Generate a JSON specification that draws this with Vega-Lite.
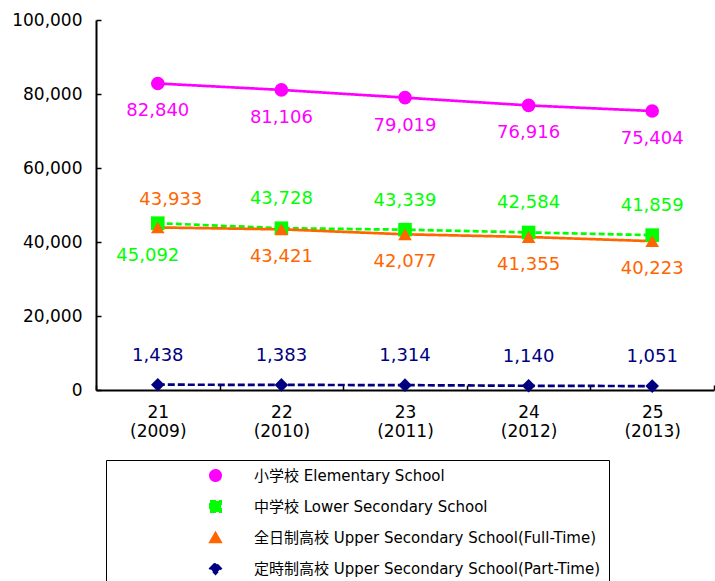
{
  "$schema": "https://vega.github.io/schema/vega-lite/v6.json",
  "width": 618,
  "height": 370,
  "autosize": "none",
  "padding": {"left": 96, "top": 20, "right": 1, "bottom": 191},
  "config": {
    "view": {"stroke": null},
    "font": "DejaVu Sans, Noto Sans CJK JP",
    "axis": {"labelFont": "DejaVu Sans, Noto Sans CJK JP", "labelColor": "#000", "domainColor": "#000", "domainWidth": 2, "tickColor": "#000", "tickWidth": 1.5, "grid": false, "title": null},
    "legend": {"labelFont": "DejaVu Sans, Noto Sans CJK JP"}
  },
  "data": {
    "values": [
      {"school": "小学校 Elementary School", "year": "21 (2009)", "count": 82840},
      {"school": "小学校 Elementary School", "year": "22 (2010)", "count": 81106},
      {"school": "小学校 Elementary School", "year": "23 (2011)", "count": 79019},
      {"school": "小学校 Elementary School", "year": "24 (2012)", "count": 76916},
      {"school": "小学校 Elementary School", "year": "25 (2013)", "count": 75404},
      {"school": "中学校 Lower Secondary School", "year": "21 (2009)", "count": 45092},
      {"school": "中学校 Lower Secondary School", "year": "22 (2010)", "count": 43728},
      {"school": "中学校 Lower Secondary School", "year": "23 (2011)", "count": 43339},
      {"school": "中学校 Lower Secondary School", "year": "24 (2012)", "count": 42584},
      {"school": "中学校 Lower Secondary School", "year": "25 (2013)", "count": 41859},
      {"school": "全日制高校 Upper Secondary School(Full-Time)", "year": "21 (2009)", "count": 43933},
      {"school": "全日制高校 Upper Secondary School(Full-Time)", "year": "22 (2010)", "count": 43421},
      {"school": "全日制高校 Upper Secondary School(Full-Time)", "year": "23 (2011)", "count": 42077},
      {"school": "全日制高校 Upper Secondary School(Full-Time)", "year": "24 (2012)", "count": 41355},
      {"school": "全日制高校 Upper Secondary School(Full-Time)", "year": "25 (2013)", "count": 40223},
      {"school": "定時制高校 Upper Secondary School(Part-Time)", "year": "21 (2009)", "count": 1438},
      {"school": "定時制高校 Upper Secondary School(Part-Time)", "year": "22 (2010)", "count": 1383},
      {"school": "定時制高校 Upper Secondary School(Part-Time)", "year": "23 (2011)", "count": 1314},
      {"school": "定時制高校 Upper Secondary School(Part-Time)", "year": "24 (2012)", "count": 1140},
      {"school": "定時制高校 Upper Secondary School(Part-Time)", "year": "25 (2013)", "count": 1051}
    ]
  },
  "encoding": {
    "x": {
      "field": "year", "type": "ordinal", "sort": null, "bandPosition": 0.5,
      "scale": {"type": "band", "paddingInner": 0, "paddingOuter": 0},
      "axis": {"labelAngle": 0, "tickBand": "extent", "tickSize": -5, "labelPadding": 19, "labelExpr": "split(datum.label, ' ')", "labelLineHeight": 19, "labelFontSize": 17}
    },
    "y": {
      "field": "count", "type": "quantitative",
      "scale": {"domain": [0, 100000], "nice": false},
      "axis": {"values": [0, 20000, 40000, 60000, 80000, 100000], "format": ",d", "tickSize": -5, "labelPadding": 19, "labelFontSize": 17}
    }
  },
  "layer": [
    {
      "mark": {"type": "line", "strokeWidth": 2.7},
      "encoding": {
        "color": {"field": "school", "type": "nominal", "sort": null,
          "scale": {"domain": ["小学校 Elementary School", "中学校 Lower Secondary School", "全日制高校 Upper Secondary School(Full-Time)", "定時制高校 Upper Secondary School(Part-Time)"], "range": ["#FF00FF", "#00FF00", "#FF6600", "#000080"]}},
        "strokeDash": {"field": "school", "type": "nominal", "sort": null,
          "scale": {"domain": ["小学校 Elementary School", "中学校 Lower Secondary School", "全日制高校 Upper Secondary School(Full-Time)", "定時制高校 Upper Secondary School(Part-Time)"], "range": [[1, 0], [6, 3], [1, 0], [7, 3]]},
          "legend": null}
      }
    },
    {
      "mark": {"type": "point", "filled": true, "opacity": 1, "size": 185},
      "encoding": {
        "color": {"field": "school", "type": "nominal", "sort": null,
          "legend": {
            "title": null, "orient": "none", "legendX": 10, "legendY": 440, "direction": "vertical",
            "padding": 8, "rowPadding": 12, "symbolOffset": 94, "labelOffset": 31, "symbolSize": 121,
            "symbolStrokeWidth": 2,
            "labelFontSize": 15, "labelColor": "#000", "labelLimit": 600, "strokeColor": "#000", "fillColor": "#fff"
          }},
        "shape": {"field": "school", "type": "nominal", "sort": null,
          "scale": {"domain": ["小学校 Elementary School", "中学校 Lower Secondary School", "全日制高校 Upper Secondary School(Full-Time)", "定時制高校 Upper Secondary School(Part-Time)"], "range": ["circle", "square", "triangle-up", "diamond"]},
          "legend": null}
      }
    },
    {
      "transform": [{"filter": "indexof(datum.school,'Elementary')>=0 || (indexof(datum.school,'Full')>=0 && datum.year !== '21 (2009)')"}],
      "mark": {"type": "text", "fontSize": 18, "baseline": "middle", "align": "center", "dy": 28},
      "encoding": {
        "text": {"field": "count", "type": "quantitative", "format": ","},
        "color": {"field": "school", "type": "nominal", "sort": null}
      }
    },
    {
      "transform": [{"filter": "indexof(datum.school,'Part')>=0 || (indexof(datum.school,'Lower')>=0 && datum.year !== '21 (2009)')"}],
      "mark": {"type": "text", "fontSize": 18, "baseline": "middle", "align": "center", "dy": -29},
      "encoding": {
        "text": {"field": "count", "type": "quantitative", "format": ","},
        "color": {"field": "school", "type": "nominal", "sort": null}
      }
    },
    {
      "transform": [{"filter": "indexof(datum.school,'Full')>=0 && datum.year === '21 (2009)'"}],
      "mark": {"type": "text", "fontSize": 18, "baseline": "middle", "align": "center", "dy": -27, "dx": 13},
      "encoding": {
        "text": {"field": "count", "type": "quantitative", "format": ","},
        "color": {"field": "school", "type": "nominal", "sort": null}
      }
    },
    {
      "transform": [{"filter": "indexof(datum.school,'Lower')>=0 && datum.year === '21 (2009)'"}],
      "mark": {"type": "text", "fontSize": 18, "baseline": "middle", "align": "center", "dy": 33, "dx": -10},
      "encoding": {
        "text": {"field": "count", "type": "quantitative", "format": ","},
        "color": {"field": "school", "type": "nominal", "sort": null}
      }
    }
  ]
}
